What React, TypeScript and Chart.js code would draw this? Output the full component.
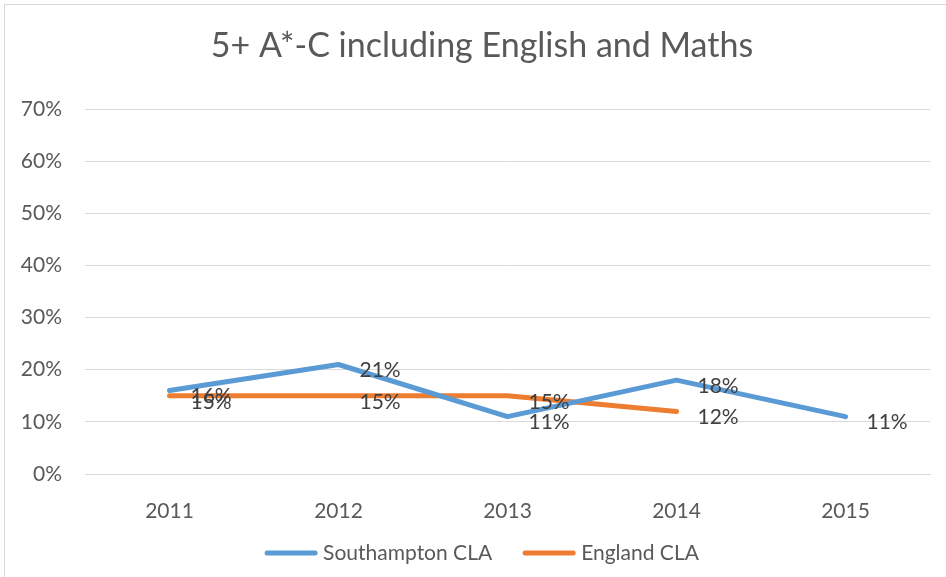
import React, { useEffect, useRef } from "react";
import { Chart, registerables } from "chart.js";

Chart.register(...registerables);

const years = ["2011", "2012", "2013", "2014", "2015"];
const southampton = [16, 21, 11, 18, 11];
const england = [15, 15, 15, 12, null];
const yTicks = [0, 10, 20, 30, 40, 50, 60, 70];
const TITLE = "5+ A*-C including English and Maths";

const FONT = "Lato, 'Open Sans', sans-serif";
const TEXT = "#595959";
const CENTER_X = 482;

const borderPlugin = {
  id: "outerBorder",
  beforeDraw(chart: any) {
    const ctx = chart.ctx;
    ctx.save();
    ctx.fillStyle = "#ffffff";
    ctx.fillRect(0, 0, chart.width, chart.height);
    ctx.strokeStyle = "#d9d9d9";
    ctx.lineWidth = 1;
    ctx.strokeRect(4.5, 4.5, chart.width, chart.height - 4);
    ctx.fillStyle = TEXT;
    ctx.font = `34px ${FONT}`;
    ctx.textAlign = "center";
    ctx.textBaseline = "middle";
    ctx.fillText(TITLE, CENTER_X, 46);
    ctx.restore();
  },
};

const labelPlugin = {
  id: "valueLabels",
  afterDatasetsDraw(chart: any) {
    const ctx = chart.ctx;
    ctx.save();
    ctx.font = `21px ${FONT}`;
    ctx.fillStyle = "#404040";
    ctx.textAlign = "left";
    ctx.textBaseline = "middle";
    chart.data.datasets.forEach((ds: any, i: number) => {
      const meta = chart.getDatasetMeta(i);
      meta.data.forEach((pt: any, j: number) => {
        const v = ds.data[j];
        if (v === null || v === undefined) return;
        ctx.fillText(v + "%", pt.x + 21, pt.y + 6);
      });
    });
    ctx.restore();
  },
};

const legendPlugin = {
  id: "customLegend",
  afterDraw(chart: any) {
    const ctx = chart.ctx;
    const lineW = 52;
    const gapText = 6;
    const gapItem = 31;
    ctx.save();
    ctx.font = `21px ${FONT}`;
    const items = chart.data.datasets.map((ds: any) => ({
      text: ds.label,
      color: ds.borderColor,
      w: lineW + gapText + ctx.measureText(ds.label).width,
    }));
    const total = items.reduce((s: number, it: any) => s + it.w, 0) + gapItem * (items.length - 1);
    let x = CENTER_X - total / 2;
    const y = chart.height - 24;
    items.forEach((it: any) => {
      ctx.strokeStyle = it.color;
      ctx.lineWidth = 5;
      ctx.lineCap = "round";
      ctx.beginPath();
      ctx.moveTo(x + 2, y);
      ctx.lineTo(x + lineW - 2, y);
      ctx.stroke();
      ctx.fillStyle = TEXT;
      ctx.textAlign = "left";
      ctx.textBaseline = "middle";
      ctx.fillText(it.text, x + lineW + gapText, y);
      x += it.w + gapItem;
    });
    ctx.restore();
  },
};

export default function App() {
  const ref = useRef<HTMLCanvasElement>(null);
  useEffect(() => {
    document.body.style.margin = "0";
    const chart = new Chart(ref.current!, {
      type: "line",
      data: {
        labels: years,
        datasets: [
          {
            label: "Southampton CLA",
            data: southampton,
            borderColor: "#5B9BD5",
            backgroundColor: "#5B9BD5",
            borderWidth: 5,
            pointRadius: 0,
            borderCapStyle: "round",
            borderJoinStyle: "round",
            tension: 0,
          },
          {
            label: "England CLA",
            data: england,
            borderColor: "#ED7D31",
            backgroundColor: "#ED7D31",
            borderWidth: 5,
            pointRadius: 0,
            borderCapStyle: "round",
            borderJoinStyle: "round",
            tension: 0,
          },
        ],
      },
      options: {
        responsive: false,
        animation: false,
        layout: { padding: { left: 18, right: 16, top: 109, bottom: 53 } },
        plugins: {
          title: { display: false },
          legend: { display: false },
          tooltip: { enabled: false },
        },
        scales: {
          x: {
            offset: true,
            grid: { display: false, drawTicks: false },
            border: { color: "#d9d9d9" },
            ticks: { color: TEXT, font: { family: FONT, size: 21 }, padding: 25 },
            afterFit(scale: any) {
              scale.height = 50;
            },
          },
          y: {
            min: 0,
            max: 70,
            afterBuildTicks(scale: any) {
              scale.ticks = yTicks.map((v) => ({ value: v }));
            },
            afterFit(scale: any) {
              scale.width = 67;
            },
            grid: { color: "#d9d9d9", drawTicks: false },
            border: { display: false },
            ticks: {
              color: TEXT,
              font: { family: FONT, size: 21 },
              padding: 23,
              callback: (v: any) => v + "%",
            },
          },
        },
      },
      plugins: [borderPlugin, labelPlugin, legendPlugin],
    } as any);
    return () => chart.destroy();
  }, []);
  return <canvas ref={ref} width={946} height={577} style={{ display: "block" }} />;
}
